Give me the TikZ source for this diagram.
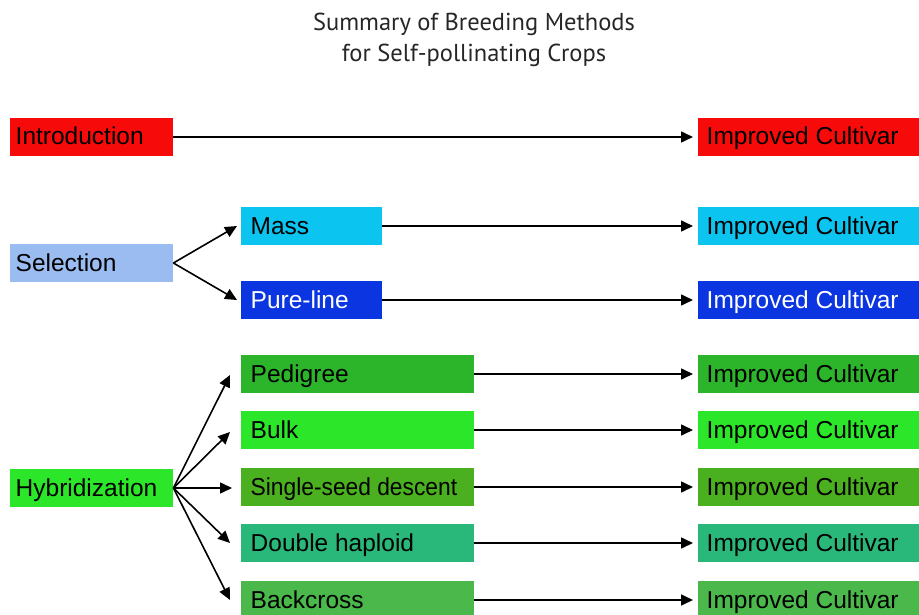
\documentclass[tikz,border=0pt]{standalone}
\usepackage{graphicx}
\usepackage{fontspec}
\setmainfont{Liberation Sans}
\newfontfamily\titlefont{PT Sans}
\usetikzlibrary{arrows.meta,calc}
\definecolor{cred}{HTML}{F70A0A}
\definecolor{csel}{HTML}{9BBCF0}
\definecolor{cmass}{HTML}{0CC4F0}
\definecolor{cpure}{HTML}{0A35E0}
\definecolor{cped}{HTML}{2CB52A}
\definecolor{cbulk}{HTML}{2CE62A}
\definecolor{cssd}{HTML}{4AB020}
\definecolor{cdh}{HTML}{2AB87A}
\definecolor{cbc}{HTML}{4AB84A}
\newcommand\lbtext[3]{\makebox[#1][l]{\hspace*{#2}#3}}
\tikzset{
  boxnode/.style={anchor=west, minimum height=38pt, inner xsep=0pt, inner ysep=0pt,
    font=\fontsize{24.5}{28}\selectfont, text height=19pt, text depth=3pt},
  smallbox/.style={boxnode, minimum width=163pt},
  midbox/.style={boxnode, minimum width=141pt},
  widebox/.style={boxnode, minimum width=233pt},
  resbox/.style={boxnode, minimum width=221pt},
  arr/.style={line width=1.6pt, -{Triangle[length=12pt,width=11pt]}},
}
\begin{document}
\begin{tikzpicture}[x=1pt,y=-1pt]
\useasboundingbox (0,0) rectangle (919,615);
\node[font=\titlefont\fontsize{24.5}{31}\selectfont, text=black!85, align=center] (title) at (474,40) {Summary of Breeding Methods\\for Self-pollinating Crops};

\node[smallbox, fill=cred] (intro) at (10,137) {\lbtext{160pt}{4pt}{Introduction}};
\node[resbox, fill=cred] (ic1) at (698,137) {\lbtext{218pt}{7pt}{Improved Cultivar}};

\node[smallbox, fill=csel] (sel) at (10,263) {\lbtext{160pt}{4pt}{Selection}};
\node[midbox, fill=cmass] (mass) at (241,226) {\lbtext{138pt}{8pt}{Mass}};
\node[midbox, fill=cpure, text=white] (pure) at (241,300) {\lbtext{138pt}{8pt}{Pure-line}};
\node[resbox, fill=cmass] (ic2) at (698,226) {\lbtext{218pt}{7pt}{Improved Cultivar}};
\node[resbox, fill=cpure, text=white] (ic3) at (698,300) {\lbtext{218pt}{7pt}{Improved Cultivar}};

\node[smallbox, fill=cbulk] (hyb) at (10,488) {\lbtext{160pt}{4pt}{Hybridization}};
\node[widebox, fill=cped] (ped) at (241,374) {\lbtext{230pt}{8pt}{Pedigree}};
\node[widebox, fill=cbulk] (bulk) at (241,430) {\lbtext{230pt}{8pt}{Bulk}};
\node[widebox, fill=cssd] (ssd) at (241,487) {\lbtext{230pt}{8pt}{\scalebox{0.93}[1]{Single-seed descent}}};
\node[widebox, fill=cdh] (dh) at (241,543) {\lbtext{230pt}{8pt}{Double haploid}};
\node[widebox, fill=cbc] (bc) at (241,600) {\lbtext{230pt}{8pt}{Backcross}};
\node[resbox, fill=cped] (ic4) at (698,374) {\lbtext{218pt}{7pt}{Improved Cultivar}};
\node[resbox, fill=cbulk] (ic5) at (698,430) {\lbtext{218pt}{7pt}{Improved Cultivar}};
\node[resbox, fill=cssd] (ic6) at (698,487) {\lbtext{218pt}{7pt}{Improved Cultivar}};
\node[resbox, fill=cdh] (ic7) at (698,543) {\lbtext{218pt}{7pt}{Improved Cultivar}};
\node[resbox, fill=cbc] (ic8) at (698,600) {\lbtext{218pt}{7pt}{Improved Cultivar}};

\draw[arr, shorten >=5pt] (intro.east) -- (ic1.west);
\draw[arr, shorten >=5pt] (mass.east) -- (ic2.west);
\draw[arr, shorten >=5pt] (pure.east) -- (ic3.west);
\draw[arr, shorten >=5pt] (ped.east) -- (ic4.west);
\draw[arr, shorten >=5pt] (bulk.east) -- (ic5.west);
\draw[arr, shorten >=5pt] (ssd.east) -- (ic6.west);
\draw[arr, shorten >=5pt] (dh.east) -- (ic7.west);
\draw[arr, shorten >=5pt] (bc.east) -- (ic8.west);

\draw[arr] (sel.east) -- ($(mass.west)+(-4,0)$);
\draw[arr] (sel.east) -- ($(pure.west)+(-4,0)$);

\draw[arr] (hyb.east) -- ($(ped.west)+(-11,1)$);
\draw[arr] (hyb.east) -- ($(bulk.west)+(-11,2)$);
\draw[arr] (hyb.east) -- ($(ssd.west)+(-9,1)$);
\draw[arr] (hyb.east) -- ($(dh.west)+(-11,0)$);
\draw[arr] (hyb.east) -- ($(bc.west)+(-11,0)$);
\end{tikzpicture}
\end{document}
